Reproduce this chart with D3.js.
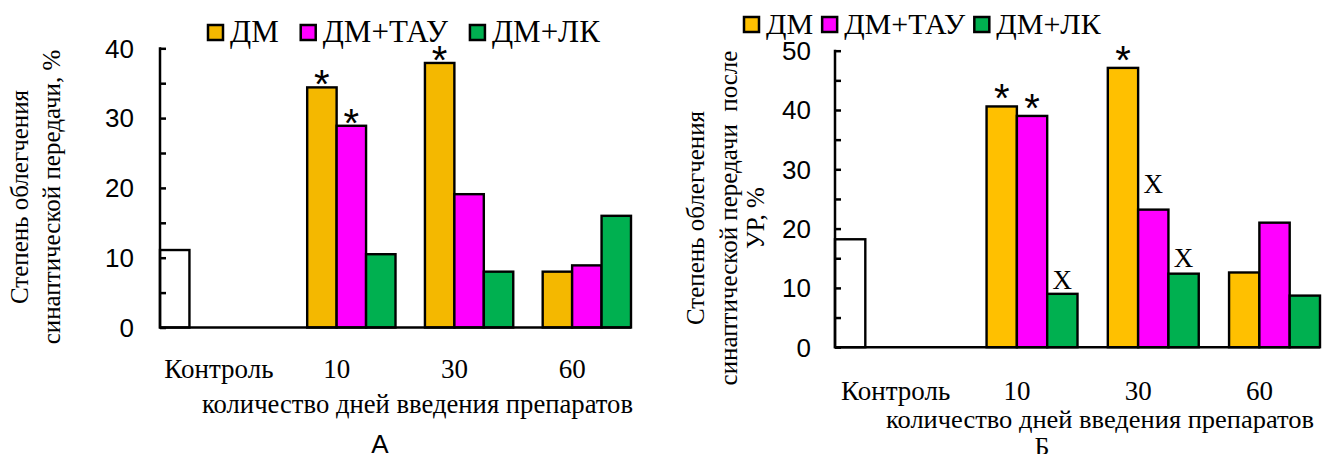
<!DOCTYPE html>
<html>
<head>
<meta charset="utf-8">
<script src="https://cdn.jsdelivr.net/npm/d3@7"></script>
<style>
  html, body { margin: 0; padding: 0; background: #fff; }
  svg { display: block; }
  text { white-space: pre; }
</style>
</head>
<body>
<svg id="chart" width="1322" height="454"></svg>
<script>
// Categories on the x axis (days of drug administration)
const categories = ["Контроль", "10", "30", "60"];
// Bar series drawn inside every category slot (first slot is the control group)
const seriesNames = ["Контроль", "ДМ", "ДМ+ТАУ", "ДМ+ЛК"];
const legendNames = ["ДМ", "ДМ+ТАУ", "ДМ+ЛК"];

// Panel А: degree of facilitation of synaptic transmission, %
const aControl = [11.1, null, null, null];
const aDm      = [null, 34.4, 37.9, 8.0];
const aDmTau   = [null, 28.9, 19.1, 8.9];
const aDmLk    = [null, 10.5, 8.0, 16.0];
const aDmMarks    = ["", "*", "*", ""];
const aDmTauMarks = ["", "*", "", ""];
const aDmLkMarks  = ["", "", "", ""];
const aYTicks = [0, 10, 20, 30, 40];
const aYTitle = ["Степень облегчения", "синаптической передачи, %"];

// Panel Б: degree of facilitation after conditioned reflex, %
const bControl = [18.2, null, null, null];
const bDm      = [null, 40.6, 47.1, 12.6];
const bDmTau   = [null, 39.0, 23.2, 21.0];
const bDmLk    = [null, 9.0, 12.4, 8.7];
const bDmMarks    = ["", "*", "*", ""];
const bDmTauMarks = ["", "*", "Х", ""];
const bDmLkMarks  = ["", "Х", "Х", ""];
const bYTicks = [0, 10, 20, 30, 40, 50];
const bYTitle = ["Степень облегчения", "синаптической передачи  после", "УР, %"];

const xTitle = "количество дней введения препаратов";

const SERIF = "'Liberation Serif', 'Times New Roman', serif";
const SANS = "'Liberation Sans', Arial, sans-serif";

const svg = d3.select("#chart");

function drawPanel(cfg) {
  const g = svg.append("g");
  const x = d3.scaleBand().domain(categories).range([cfg.left, cfg.right]).padding(0);
  const xs = d3.scaleBand().domain(seriesNames).range([0, x.bandwidth()]).padding(0);
  const y = d3.scaleLinear().domain([0, cfg.yMax]).range([cfg.bottom, cfg.top]);

  const colorOf = {
    "Контроль": "#ffffff",
    "ДМ": cfg.yellow,
    "ДМ+ТАУ": "#ff00ff",
    "ДМ+ЛК": "#00b050"
  };

  const seriesData = [
    { name: "Контроль", values: cfg.control, marks: ["", "", "", ""] },
    { name: "ДМ", values: cfg.dm, marks: cfg.dmMarks },
    { name: "ДМ+ТАУ", values: cfg.dmTau, marks: cfg.dmTauMarks },
    { name: "ДМ+ЛК", values: cfg.dmLk, marks: cfg.dmLkMarks }
  ];
  const bars = [];
  seriesData.forEach(s => {
    s.values.forEach((v, i) => {
      if (v != null) bars.push({ series: s.name, cat: categories[i], value: v, mark: s.marks[i] });
    });
  });

  // bars
  g.selectAll("rect.bar").data(bars).enter().append("rect")
    .attr("class", "bar")
    .attr("x", d => x(d.cat) + xs(d.series))
    .attr("y", d => y(d.value))
    .attr("width", xs.bandwidth())
    .attr("height", d => y(0) - y(d.value))
    .attr("fill", d => colorOf[d.series])
    .attr("stroke", "#000")
    .attr("stroke-width", 2.4);

  // significance marks above bars
  const marked = bars.filter(d => d.mark);
  g.selectAll("text.mark").data(marked).enter().append("text")
    .attr("class", "mark")
    .attr("x", d => x(d.cat) + xs(d.series) + xs.bandwidth() / 2)
    .attr("y", d => {
      if (d.mark === "*") return y(d.value) + cfg.starDy;
      const lift = (cfg.xLift && cfg.xLift[d.series + "|" + d.cat]) || 6;
      return y(d.value) - lift;
    })
    .attr("text-anchor", "middle")
    .attr("font-family", d => d.mark === "*" ? SANS : SERIF)
    .attr("font-size", d => d.mark === "*" ? 40 : 27)
    .attr("fill", "#000")
    .text(d => d.mark);

  // y axis with inward ticks every 5 units
  const minor = d3.range(0, cfg.yMax + 0.001, 5);
  const yAxis = d3.axisRight(y).tickValues(minor).tickSize(6).tickFormat("");
  const ya = g.append("g").attr("transform", `translate(${cfg.left},0)`).call(yAxis);
  ya.select(".domain").remove();
  ya.selectAll(".tick line").attr("stroke", "#000").attr("stroke-width", 2.5);
  g.append("line")
    .attr("x1", cfg.left).attr("x2", cfg.left)
    .attr("y1", y(cfg.yMax) - 1).attr("y2", y(0) + 1)
    .attr("stroke", "#000").attr("stroke-width", 2.5);

  // tick labels
  g.selectAll("text.ytick").data(cfg.yTicks).enter().append("text")
    .attr("class", "ytick")
    .attr("x", cfg.left - cfg.tickGap)
    .attr("y", d => y(d))
    .attr("dy", "0.36em")
    .attr("text-anchor", "end")
    .attr("font-family", SANS)
    .attr("font-size", 26)
    .attr("fill", "#000")
    .text(d => d);

  // x axis baseline
  g.append("line")
    .attr("x1", cfg.left).attr("x2", cfg.right)
    .attr("y1", y(0)).attr("y2", y(0))
    .attr("stroke", "#000").attr("stroke-width", 2.5);

  // category labels
  g.selectAll("text.xcat").data(categories).enter().append("text")
    .attr("class", "xcat")
    .attr("x", d => x(d) + x.bandwidth() / 2)
    .attr("y", cfg.xLabelY)
    .attr("text-anchor", "middle")
    .attr("font-family", SERIF)
    .attr("font-size", 27)
    .attr("fill", "#000")
    .text(d => d);

  g.append("text")
    .attr("x", cfg.xTitleX).attr("y", cfg.xTitleY)
    .attr("font-family", SERIF).attr("font-size", cfg.xTitleSize).attr("fill", "#000")
    .attr("textLength", cfg.xTitleWidth)
    .attr("lengthAdjust", "spacingAndGlyphs")
    .text(xTitle);

  // rotated y title
  cfg.yTitle.forEach((line, i) => {
    g.append("text")
      .attr("transform", `translate(${cfg.yTitleX[i]},${cfg.yTitleCy}) rotate(-90)`)
      .attr("text-anchor", "middle")
      .attr("font-family", SERIF).attr("font-size", 25).attr("fill", "#000")
      .text(line);
  });

  // legend
  let lx = cfg.legendX;
  legendNames.forEach(name => {
    g.append("rect")
      .attr("x", lx).attr("y", cfg.legendY)
      .attr("width", 15).attr("height", 15)
      .attr("fill", colorOf[name]).attr("stroke", "#000").attr("stroke-width", 2.5);
    const t = g.append("text")
      .attr("x", lx + 22).attr("y", cfg.legendY + 17)
      .attr("font-family", SERIF).attr("font-size", cfg.legendSize).attr("fill", "#000")
      .text(name);
    lx += 22 + t.node().getComputedTextLength() + cfg.legendGap;
  });

  // panel letter
  g.append("text")
    .attr("x", cfg.letterX).attr("y", cfg.letterY)
    .attr("text-anchor", "middle")
    .attr("font-family", cfg.letterFont).attr("font-size", 26).attr("fill", "#000")
    .text(cfg.letter);
}

drawPanel({
  left: 160, right: 631, top: 48.3, bottom: 327.5, yMax: 40,
  control: aControl, dm: aDm, dmTau: aDmTau, dmLk: aDmLk,
  dmMarks: aDmMarks, dmTauMarks: aDmTauMarks, dmLkMarks: aDmLkMarks,
  yTicks: aYTicks, yTitle: aYTitle, yTitleX: [28, 60], yTitleCy: 197,
  yellow: "#f4b800", starDy: 11, tickGap: 26,
  xLabelY: 378, xTitleX: 202, xTitleY: 413, xTitleWidth: 431, xTitleSize: 27,
  legendX: 208, legendY: 25, legendGap: 22, legendSize: 31,
  letter: "А", letterX: 380, letterY: 453, letterFont: SANS
});

drawPanel({
  left: 835, right: 1320, top: 50.7, bottom: 347.2, yMax: 50,
  control: bControl, dm: bDm, dmTau: bDmTau, dmLk: bDmLk,
  dmMarks: bDmMarks, dmTauMarks: bDmTauMarks, dmLkMarks: bDmLkMarks,
  yTicks: bYTicks, yTitle: bYTitle, yTitleX: [704, 737, 764], yTitleCy: 218,
  yellow: "#ffc000", starDy: 6, tickGap: 24,
  xLift: { "ДМ+ТАУ|30": 17, "ДМ+ЛК|30": 7, "ДМ+ЛК|10": 5 },
  xLabelY: 400, xTitleX: 886, xTitleY: 428, xTitleWidth: 428, xTitleSize: 26,
  legendX: 744, legendY: 17, legendGap: 9, legendSize: 30,
  letter: "Б", letterX: 1042, letterY: 455, letterFont: SERIF
});
</script>
</body>
</html>
